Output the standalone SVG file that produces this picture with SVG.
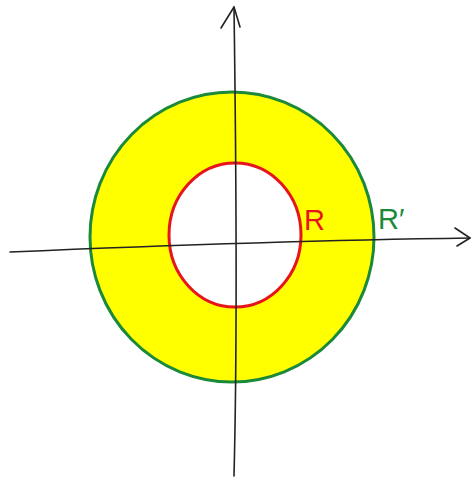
<svg xmlns="http://www.w3.org/2000/svg" width="476" height="480" viewBox="0 0 476 480">
<style>
.axis{fill:none;stroke:#222;stroke-width:1.6;stroke-linecap:round;stroke-linejoin:round}
.lbl{font-family:"Liberation Sans",Arial,sans-serif;font-size:29px}
</style>
<rect width="476" height="480" fill="#fff"/>
<g id="annulus">
<path fill="#ffff00" fill-rule="evenodd" d="M374,237 A142,145 0 1 1 90,237 A142,145 0 1 1 374,237 Z M301,235 A66,72 0 1 1 169,235 A66,72 0 1 1 301,235 Z"/>
</g>
<g id="outer">
<ellipse cx="232" cy="237" rx="142" ry="145" fill="none" stroke="#1a8a3a" stroke-width="3"/>
</g>
<g id="inner">
<ellipse cx="235" cy="235" rx="66" ry="72" fill="none" stroke="#e8141c" stroke-width="3"/>
</g>
<g id="connectors">
<path class="axis" d="M10,252 C150,246 330,240 470,238"/>
<path class="axis" d="M455,228 L470,238 L457,246"/>
<path class="axis" d="M234,7 C236,150 238,320 234,476"/>
<path class="axis" d="M221,28 L234,7 L240,27"/>
</g>
<g id="labels">
<text class="lbl" x="304" y="230" fill="#e8141c">R</text>
<text class="lbl" x="378" y="229" fill="#1a8a3a">R′</text>
</g>
</svg>
